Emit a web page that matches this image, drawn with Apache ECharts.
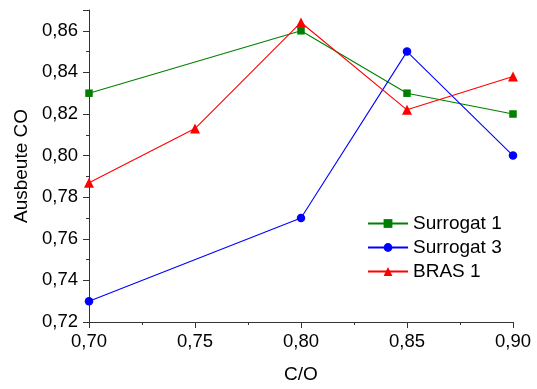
<!DOCTYPE html>
<html><head><meta charset="utf-8">
<script src="https://cdn.jsdelivr.net/npm/echarts@6/dist/echarts.min.js"></script>
<style>html,body{margin:0;padding:0;background:#fff}#c{width:537px;height:389px}</style>
</head><body><div id="c"></div>
<script>
const xTicks = [0.70, 0.75, 0.80, 0.85, 0.90];
const surrogat1X = [0.70, 0.80, 0.85, 0.90];
const surrogat1Y = [0.830, 0.860, 0.830, 0.820];
const surrogat3X = [0.70, 0.80, 0.85, 0.90];
const surrogat3Y = [0.730, 0.770, 0.850, 0.800];
const bras1X = [0.70, 0.75, 0.80, 0.85, 0.90];
const bras1Y = [0.787, 0.813, 0.864, 0.822, 0.838];
const seriesNames = ['Surrogat 1', 'Surrogat 3', 'BRAS 1'];

const pair = (xs, ys) => xs.map((x, i) => [x, ys[i]]);
const fmt = v => v.toFixed(2).replace('.', ',');
const font = 'Liberation Sans, Arial, sans-serif';
const axisCol = '#333';

const chart = echarts.init(document.getElementById('c'));
chart.setOption({
  animation: false,
  grid: {left: 89, right: 24, top: 10, bottom: 64.5},
  legend: {
    orient: 'vertical', left: 362, top: 209,
    itemWidth: 40, itemHeight: 11, itemGap: 5,
    textStyle: {fontFamily: font, fontSize: 19, color: '#000'},
    data: seriesNames
  },
  xAxis: {
    type: 'value', min: 0.70, max: 0.90, interval: 0.05,
    name: 'C/O', nameLocation: 'middle', nameGap: 43,
    nameTextStyle: {fontFamily: font, fontSize: 19, color: '#000'},
    axisLine: {show: true, lineStyle: {color: axisCol, width: 1}},
    axisTick: {show: true, length: 6, lineStyle: {color: axisCol}},
    minorTick: {show: true, splitNumber: 2, length: 3, lineStyle: {color: axisCol}},
    splitLine: {show: false},
    axisLabel: {fontFamily: font, fontSize: 18.5, color: '#000', margin: 10, formatter: fmt}
  },
  yAxis: {
    type: 'value', min: 0.72, max: 0.87, interval: 0.02,
    name: 'Ausbeute CO', nameLocation: 'middle', nameGap: 56,
    nameTextStyle: {fontFamily: font, fontSize: 19, color: '#000'},
    axisLine: {show: true, lineStyle: {color: axisCol, width: 1}},
    axisTick: {show: true, length: 6, lineStyle: {color: axisCol}},
    minorTick: {show: true, splitNumber: 2, length: 3, lineStyle: {color: axisCol}},
    splitLine: {show: false},
    axisLabel: {fontFamily: font, fontSize: 18.5, color: '#000', margin: 11, formatter: fmt, showMaxLabel: false}
  },
  series: [
    {name: seriesNames[0], type: 'line', data: pair(surrogat1X, surrogat1Y),
     symbol: 'rect', symbolSize: 7.5, color: '#008000', lineStyle: {width: 1.1}},
    {name: seriesNames[1], type: 'line', data: pair(surrogat3X, surrogat3Y),
     symbol: 'circle', symbolSize: 8.5, color: '#0000ff', lineStyle: {width: 1.1}},
    {name: seriesNames[2], type: 'line', data: pair(bras1X, bras1Y),
     symbol: 'triangle', symbolSize: 10, color: '#ff0000', lineStyle: {width: 1.1}}
  ]
});
</script></body></html>
